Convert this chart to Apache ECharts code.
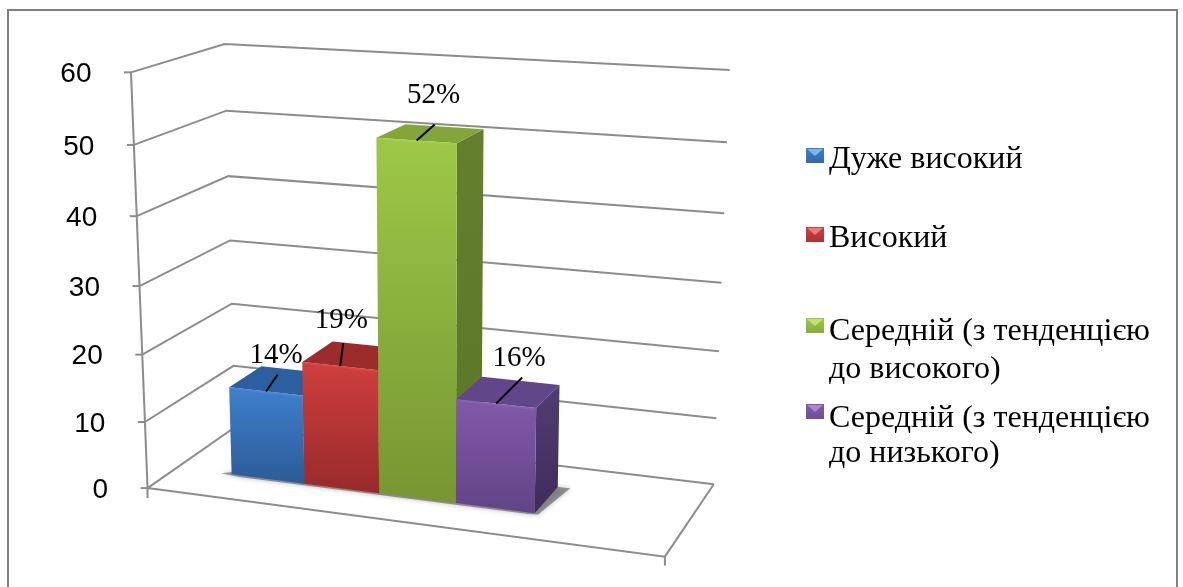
<!DOCTYPE html>
<html><head><meta charset="utf-8">
<style>html,body{margin:0;padding:0;background:#fff}#c{width:1183px;height:587px}</style>
<script src="https://cdn.jsdelivr.net/npm/echarts@6/dist/echarts.min.js"></script>
</head><body><div id="c"></div>
<script>
// ---------- data ----------
const categories = ['Дуже високий','Високий','Середній (з тенденцією до високого)','Середній (з тенденцією до низького)'];
const seriesValues = [14,19,52,16];
const tickValues = [0,10,20,30,40,50,60];
const tickLabels = ['0','10','20','30','40','50','60'];

// ---------- styling ----------
const faceColors = [
  {front:['#3f7fcc','#2b5c98'], top:'#2c5f9f', side:['#2b5c98','#234c7e'], hi:'#4f8cd6'},
  {front:['#d03e3e','#982a2a'], top:'#9c2c2c', side:['#982a2a','#7a2020'], hi:'#da4c4c'},
  {front:['#9dc847','#779632'], top:'#84a539', side:['#647f2e','#5c7629'], hi:'#a8d050'},
  {front:['#8059a8','#634487'], top:'#614689', side:['#523c73','#402c59'], hi:'#8a66b2'}
];
const legendOptions = [
  {top:142, lh:36, line2:'', pad:12},
  {top:221, lh:36, line2:'', pad:12},
  {top:274.5, lh:38, line2:'до високого)', pad:13.5},
  {top:366.5, lh:35, line2:'до низького)', pad:15}
];
const iconLight = ['#7db4ee','#ea7c7c','#c3e070','#a888cf'];
const labelOff = [[10,-36],[1,-46],[17,-45],[23,-45]];
const leaderOff = [[11.7,-17],[3,-23],[18,-16],[26,-26]];
const WALL = '#8c8c8c';
const bar0X = 0.1165, barW = 0.1525, barZF = 0.32, barZB = 0.70, topDrop = 0.65;

// ---------- projection calibration (walls of the 3D box) ----------
const fl = [[147,488],[145,421.7],[142,354],[140,286],[137,216.7],[133.5,145.7],[131,72]];
const bl = [[236,428],[233,366],[232,303],[230,240],[228,176],[226,111],[225,44]];
const br = [[713,484],[716,418],[719,352],[722,283],[725,213],[727,142],[729,70]];
const fr = [665,556.7];
function fit(){
  const rows=[],rhs=[];
  const add=(X,Y,Z,u,v)=>{u/=1000;v/=1000;
    rows.push([X,Y,Z,1,0,0,0,0,-u*X,-u*Y,-u*Z]);rhs.push(u);
    rows.push([0,0,0,0,X,Y,Z,1,-v*X,-v*Y,-v*Z]);rhs.push(v);};
  for(let i=0;i<7;i++){add(0,i/6,0,fl[i][0],fl[i][1]);add(0,i/6,1,bl[i][0],bl[i][1]);add(1,i/6,1,br[i][0],br[i][1]);}
  for(let k=0;k<4;k++)add(1,0,0,fr[0],fr[1]);
  const n=11,A=[];
  for(let i=0;i<n;i++){A.push(new Array(n+1).fill(0));
    for(let j=0;j<n;j++)for(let r=0;r<rows.length;r++)A[i][j]+=rows[r][i]*rows[r][j];
    for(let r=0;r<rows.length;r++)A[i][n]+=rows[r][i]*rhs[r];}
  for(let c=0;c<n;c++){let p=c;for(let r=c+1;r<n;r++)if(Math.abs(A[r][c])>Math.abs(A[p][c]))p=r;
    [A[c],A[p]]=[A[p],A[c]];
    for(let r=0;r<n;r++)if(r!==c){const f=A[r][c]/A[c][c];for(let j=c;j<=n;j++)A[r][j]-=f*A[c][j];}}
  return A.map((row,i)=>row[n]/row[i]);
}
const P=fit();
function proj(X,Y,Z){const w=P[8]*X+P[9]*Y+P[10]*Z+1;
  return [1000*(P[0]*X+P[1]*Y+P[2]*Z+P[3])/w,1000*(P[4]*X+P[5]*Y+P[6]*Z+P[7])/w];}

const grad=(a,b)=>({type:'linear',x:0,y:0,x2:0,y2:1,colorStops:[{offset:0,color:a},{offset:1,color:b}]});
function toY(api,v){const y0=api.coord([0,0])[1],y1=api.coord([0,60])[1];return (y0-api.coord([0,v])[1])/(y0-y1);}
const line=(pts,w,c)=>({type:'polyline',shape:{points:pts},style:{stroke:c||WALL,lineWidth:w||2,fill:null}});

function renderWall(params,api){
  const v=api.value(1),Y=toY(api,v),i=params.dataIndex,kids=[];
  const a=proj(0,Y,0),b=proj(0,Y,1),c=proj(1,Y,1);
  kids.push(line([a,b,c]));
  kids.push(line([[a[0]-7,a[1]],a]));
  if(i<tickValues.length-1){kids.push(line([a,proj(0,toY(api,tickValues[i+1]),0)]));}
  if(i===0){const f=proj(1,0,0);
    kids.push(line([a,f,c]));
    kids.push(line([a,[a[0],a[1]+10]]));
    kids.push(line([f,[f[0],f[1]+9]]));}
  kids.push({type:'text',style:{text:tickLabels[i],x:a[0]-39.5,y:a[1]+2,align:'right',verticalAlign:'middle',
    font:'28px "Liberation Sans"',fill:'#000'}});
  return {type:'group',children:kids};
}
function renderShadow(params,api){
  const x0=bar0X,x1=bar0X+4*barW;
  const pts=[proj(x0-0.022,0,barZF-0.004),proj(x0+0.02,0,barZF-0.022),proj(x1-0.01,0,barZF-0.022),proj(x1+0.008,0,barZF-0.012),proj(x1+0.024,0,barZB+0.005),proj(x1,0,barZB),proj(x0,0,barZF+0.04)];
  return {type:'polygon',shape:{points:pts},
    style:{fill:'rgba(80,80,80,0.55)',shadowBlur:5,shadowColor:'rgba(80,80,80,0.7)'}};
}
function renderBar(params,api){
  const i=api.value(0),val=api.value(1),Y=toY(api,val-topDrop),c=faceColors[i];
  const x0=bar0X+i*barW,x1=x0+barW;
  const fbl=proj(x0,0,barZF),fbr=proj(x1,0,barZF),ftl=proj(x0,Y,barZF),ftr=proj(x1,Y,barZF);
  const bbr=proj(x1,0,barZB),btl=proj(x0,Y,barZB),btr=proj(x1,Y,barZB);
  const mid=[(ftl[0]+ftr[0])/2,(ftl[1]+ftr[1])/2];
  return {type:'group',children:[
    {type:'polygon',shape:{points:[ftr,btr,bbr,fbr]},style:{fill:grad(c.side[0],c.side[1])}},
    {type:'polygon',shape:{points:[ftl,btl,btr,ftr]},style:{fill:c.top}},
    {type:'polygon',shape:{points:[fbl,ftl,ftr,fbr]},style:{fill:grad(c.front[0],c.front[1])}},
    {type:'polyline',shape:{points:[[ftl[0]+1,ftl[1]+1],[ftr[0]-1,ftr[1]+1]]},style:{stroke:c.hi,lineWidth:2,opacity:0.7,fill:null}},
    line([mid,[mid[0]+leaderOff[i][0],mid[1]+leaderOff[i][1]]],2,'#000'),
    {type:'text',style:{text:val+'%',x:mid[0]+labelOff[i][0],y:mid[1]+labelOff[i][1],align:'center',verticalAlign:'middle',
      font:'29px "Liberation Serif"',fill:'#000'}}
  ]};
}

const series=[
  {type:'custom',name:'walls',z:1,silent:true,renderItem:renderWall,encode:{x:0,y:1},data:tickValues.map(v=>[0,v])},
  {type:'custom',name:'shadow',z:2,silent:true,renderItem:renderShadow,encode:{x:0,y:1},data:[[0,0]]}
];
categories.forEach((name,i)=>series.push({type:'custom',name:name,z:3+i,silent:true,renderItem:renderBar,encode:{x:0,y:1},
  data:[[i,seriesValues[i]]]}));

const legends=categories.map((name,i)=>{const o=legendOptions[i];const h=o.pad*2;return {
  data:[name],orient:'vertical',left:806,top:o.top,padding:0,selectedMode:false,
  icon:'path://M0 0H18V15H0ZM0 '+h+'H0.01',itemWidth:18,itemHeight:h,
  itemStyle:{color:grad(faceColors[i].front[0],faceColors[i].front[1]),borderWidth:0},
  formatter:n=>o.line2?'\n'+n.replace(' '+o.line2,'')+'\n'+o.line2:n,
  textStyle:{fontFamily:'Liberation Serif',fontSize:32,color:'#000',lineHeight:o.lh}
};});
const iconGraphics=legendOptions.map((o,i)=>{
  const c=o.top+(o.line2?1.5:0.5)*o.lh, t=c-o.pad;
  return {type:'polygon',shape:{points:[[807,t+1],[823,t+1],[815,t+8]]},style:{fill:iconLight[i]},z:100,silent:true};
});

const chart=echarts.init(document.getElementById('c'),null,{renderer:'canvas'});
chart.setOption({
  animation:false,backgroundColor:'#fff',
  grid:{left:131,top:72,width:500,height:416,show:false},
  xAxis:{type:'category',data:[0,1,2,3],show:false},
  yAxis:{type:'value',min:0,max:60,interval:10,show:false},
  legend:legends,
  graphic:[{type:'rect',shape:{x:8,y:10,width:1169,height:600},style:{fill:null,stroke:'#808080',lineWidth:2},z:0,silent:true}].concat(iconGraphics),
  series:series
});
</script></body></html>
